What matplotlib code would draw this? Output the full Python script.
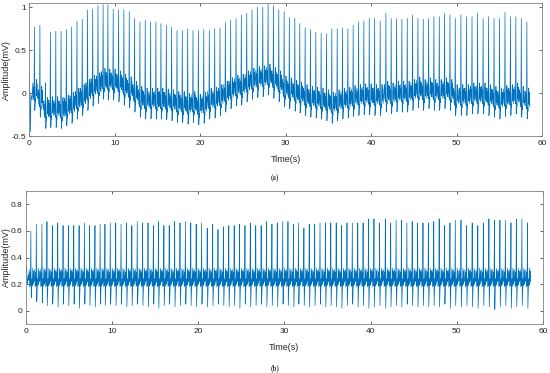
import numpy as np
import matplotlib
matplotlib.use("Agg")
import matplotlib.pyplot as plt

# R-peak times (s)
beat_times = [0.58, 1.22, 1.87, 2.45, 3.08, 3.70, 4.32, 4.94, 5.56, 6.18, 6.80, 7.40, 8.02, 8.62, 9.18, 9.80,
              10.43, 11.05, 11.68, 12.30, 12.93, 13.55, 14.18, 14.80, 15.39, 16.02, 16.64, 17.27, 17.89, 18.52, 19.14, 19.77,
              20.40, 21.05, 21.68, 22.30, 22.93, 23.55, 24.18, 24.80, 25.43, 26.05, 26.68, 27.31, 27.93, 28.56, 29.18, 29.81,
              30.42, 31.06, 31.64, 32.27, 32.89, 33.52, 34.14, 34.77, 35.39, 36.02, 36.64, 37.27, 37.89, 38.52, 39.14, 39.77,
              40.40, 41.05, 41.72, 42.34, 42.97, 43.59, 44.22, 44.84, 45.47, 46.09, 46.72, 47.34, 47.97, 48.59, 49.22, 49.84,
              50.50, 51.15, 51.80, 52.45, 53.10, 53.74, 54.38, 55.02, 55.66, 56.30, 56.93, 57.57, 58.22]

# (a) raw signal: R peak and S trough per beat (mV)
raw_peaks = [0.77, 0.79, 0.12, 0.71, 0.72, 0.72, 0.74, 0.77, 0.84, 0.86, 0.97, 0.98, 1.02, 1.03, 1.03, 0.98,
             0.97, 0.97, 0.95, 0.87, 0.83, 0.85, 0.83, 0.83, 0.81, 0.79, 0.77, 0.73, 0.73, 0.75, 0.73, 0.73,
             0.74, 0.73, 0.75, 0.76, 0.82, 0.85, 0.87, 0.91, 0.93, 0.97, 1.00, 1.00, 1.04, 1.02, 0.97, 0.95,
             0.88, 0.87, 0.81, 0.76, 0.74, 0.71, 0.70, 0.69, 0.75, 0.75, 0.76, 0.75, 0.79, 0.83, 0.84, 0.87,
             0.87, 0.84, 0.93, 0.87, 0.87, 0.86, 0.87, 0.91, 0.87, 0.86, 0.87, 0.89, 0.89, 0.93, 0.91, 0.87,
             0.91, 0.89, 0.89, 0.93, 0.87, 0.89, 0.87, 0.87, 0.94, 0.89, 0.89, 0.87, 0.83]
raw_troughs = [-0.20, -0.28, -0.41, -0.40, -0.40, -0.41, -0.38, -0.35, -0.30, -0.26, -0.20, -0.15, -0.12, -0.07, -0.08, -0.08,
               -0.10, -0.14, -0.17, -0.22, -0.28, -0.30, -0.30, -0.30, -0.30, -0.31, -0.32, -0.34, -0.34, -0.36, -0.34, -0.37,
               -0.35, -0.30, -0.29, -0.26, -0.22, -0.18, -0.15, -0.14, -0.10, -0.07, -0.05, -0.04, -0.02, -0.06, -0.10, -0.16,
               -0.18, -0.21, -0.23, -0.26, -0.28, -0.29, -0.30, -0.32, -0.35, -0.32, -0.30, -0.29, -0.27, -0.26, -0.25, -0.25,
               -0.26, -0.26, -0.22, -0.24, -0.22, -0.22, -0.22, -0.20, -0.17, -0.20, -0.18, -0.20, -0.20, -0.18, -0.20, -0.26,
               -0.26, -0.26, -0.24, -0.24, -0.24, -0.26, -0.28, -0.30, -0.27, -0.26, -0.24, -0.28, -0.30]

# (b) filtered signal
filt_peaks = [0.60, 0.65, 0.65, 0.67, 0.64, 0.66, 0.64, 0.64, 0.64, 0.64, 0.66, 0.64, 0.64, 0.65, 0.65, 0.66,
              0.66, 0.65, 0.66, 0.64, 0.67, 0.66, 0.66, 0.64, 0.67, 0.64, 0.64, 0.67, 0.66, 0.67, 0.66, 0.65,
              0.66, 0.62, 0.65, 0.61, 0.63, 0.64, 0.64, 0.65, 0.64, 0.66, 0.64, 0.64, 0.67, 0.65, 0.66, 0.67,
              0.67, 0.65, 0.66, 0.62, 0.65, 0.65, 0.66, 0.66, 0.66, 0.66, 0.64, 0.66, 0.66, 0.66, 0.66, 0.69,
              0.69, 0.66, 0.69, 0.66, 0.68, 0.68, 0.66, 0.67, 0.66, 0.66, 0.66, 0.67, 0.69, 0.64, 0.66, 0.68,
              0.68, 0.64, 0.66, 0.64, 0.66, 0.69, 0.68, 0.68, 0.68, 0.66, 0.69, 0.69, 0.66]
filt_troughs = [0.12, 0.07, 0.06, 0.04, 0.05, 0.03, 0.05, 0.04, 0.05, 0.02, 0.05, 0.04, 0.03, 0.05, 0.04, 0.05,
                0.04, 0.05, 0.03, 0.04, 0.05, 0.04, 0.03, 0.05, 0.02, 0.04, 0.05, 0.03, 0.04, 0.05, 0.04, 0.03,
                0.05, 0.03, 0.04, 0.05, 0.04, 0.03, 0.04, 0.02, 0.05, 0.03, 0.04, 0.05, 0.03, 0.04, 0.03, 0.05,
                0.04, 0.03, 0.05, 0.04, 0.03, 0.04, 0.05, 0.03, 0.04, 0.03, 0.02, 0.04, 0.05, 0.03, 0.04, 0.02,
                0.03, 0.04, 0.02, 0.03, 0.04, 0.03, 0.05, 0.04, 0.03, 0.04, 0.03, 0.04, 0.03, 0.05, 0.02, 0.04,
                0.03, 0.04, 0.03, 0.02, 0.04, 0.03, 0.01, 0.03, 0.04, 0.02, 0.03, 0.04, 0.02]

# start of each record, before the first beat
raw_start_t = [0.0, 0.10, 0.18, 0.30]
raw_start_v = [0.25, -0.45, -0.02, -0.08]
filt_start_t = [0.0, 0.08, 0.18, 0.30]
filt_start_v = [0.30, 0.34, 0.20, 0.27]

# beat shape: time offset from R, level ('R' peak, 'S' trough, else number)
shape_dt = [-0.24, -0.19, -0.14, -0.09, -0.05, 0.0, 0.04, 0.07, 0.10, 0.13, 0.17, 0.22, 0.26, 0.30, 0.34]
raw_shape = [0.22, 0.32, 0.15, 0.28, 0.12, 'R', 'S', 0.03, 0.13, 0.09, 0.24, 0.36, 0.17, 0.31, 0.14]   # added to S trough
filt_shape = [0.23, 0.31, 0.18, 0.29, 0.19, 'R', 'S', 0.10, 0.17, 0.24, 0.19, 0.32, 0.20, 0.30, 0.22]  # absolute level


def build(t0, v0, peaks, troughs, shape, relative):
    t = list(t0)
    v = list(v0)
    for r, p, s in zip(beat_times, peaks, troughs):
        for dt, lv in zip(shape_dt, shape):
            t.append(r + dt)
            if lv == 'R':
                v.append(p)
            elif lv == 'S':
                v.append(s)
            elif relative:
                v.append(s + lv)
            else:
                v.append(lv)
    return np.array(t), np.array(v)


line_col = '#0072BD'
edge_col = '#262626'
plt.rcParams['font.family'] = ['Liberation Sans', 'DejaVu Sans']

fig = plt.figure(figsize=(5.5, 3.73), dpi=100)
ax1 = fig.add_axes([0.0536, 0.635, 0.932, 0.357])
ax2 = fig.add_axes([0.047, 0.131, 0.940, 0.357])

t1, v1 = build(raw_start_t, raw_start_v, raw_peaks, raw_troughs, raw_shape, True)
t2, v2 = build(filt_start_t, filt_start_v, filt_peaks, filt_troughs, filt_shape, False)

ax1.plot(t1, v1, color=line_col, lw=0.5)
ax2.plot(t2, v2, color=line_col, lw=0.5)

ax1.set_ylim(-0.5, 1.05)
ax1.set_yticks([-0.5, 0, 0.5, 1])
ax1.set_yticklabels(['-0.5', '0', '0.5', '1'])
ax2.set_ylim(-0.1, 0.9)
ax2.set_yticks([0, 0.2, 0.4, 0.6, 0.8])
ax2.set_yticklabels(['0', '0.2', '0.4', '0.6', '0.8'])

for ax in (ax1, ax2):
    ax.set_xlim(0, 60)
    ax.set_xticks([0, 10, 20, 30, 40, 50, 60])
    ax.tick_params(direction='in', top=True, right=True, length=2.5, width=0.5,
                   labelsize=6, colors=edge_col, pad=2.5)
    for sp in ax.spines.values():
        sp.set_color('#808080')
        sp.set_linewidth(0.6)
    ax.set_xlabel('Time(s)', fontsize=6.5, color=edge_col, labelpad=6)
    ax.set_ylabel('Amplitude(mV)', fontsize=6.5, color=edge_col)

# put the y labels close to the figure edge, as in the reference
ax1.yaxis.set_label_coords(-0.036, 0.5)
ax2.yaxis.set_label_coords(-0.029, 0.5)

fig.text(0.5, 1 - 178 / 373, '(a)', ha='center', va='center', fontsize=5.5,
         family=['Liberation Serif', 'DejaVu Serif'])
fig.text(0.5, 1 - 368 / 373, '(b)', ha='center', va='center', fontsize=5.5,
         family=['Liberation Serif', 'DejaVu Serif'])

fig.savefig('out.png', dpi=100)
